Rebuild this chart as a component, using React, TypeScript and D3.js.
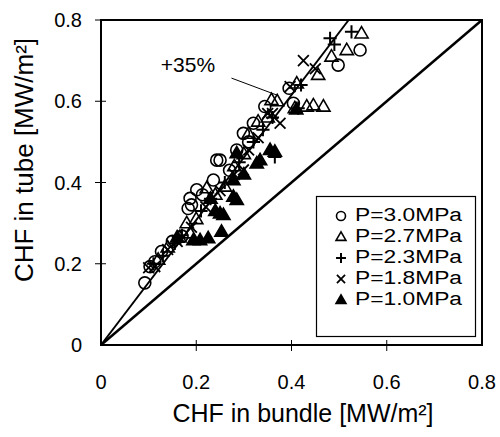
import React from "react";
import * as d3 from "d3";

const xTicks = [0, 0.2, 0.4, 0.6, 0.8];
const yTicks = [0, 0.2, 0.4, 0.6, 0.8];
const seriesNames = ["P=3.0MPa", "P=2.7MPa", "P=2.3MPa", "P=1.8MPa", "P=1.0MPa"];
const seriesShapes = ["circle", "triangle", "plus", "cross", "filledTriangle"];

const p30: [number, number][] = [
  [0.092, 0.153], [0.103, 0.193], [0.113, 0.205], [0.127, 0.23], [0.15, 0.255], [0.17, 0.268],
  [0.183, 0.336], [0.187, 0.361], [0.19, 0.345], [0.201, 0.382], [0.213, 0.37], [0.236, 0.406],
  [0.243, 0.455], [0.25, 0.455], [0.27, 0.43], [0.285, 0.48], [0.299, 0.521], [0.31, 0.5],
  [0.32, 0.546], [0.344, 0.587], [0.395, 0.632], [0.404, 0.595], [0.498, 0.689], [0.544, 0.726],
];
const p27: [number, number][] = [
  [0.12, 0.21], [0.14, 0.24], [0.165, 0.265], [0.18, 0.3], [0.187, 0.275], [0.2, 0.31],
  [0.222, 0.386], [0.24, 0.37], [0.26, 0.39], [0.28, 0.44], [0.3, 0.47], [0.31, 0.52],
  [0.33, 0.55], [0.35, 0.56], [0.358, 0.603], [0.37, 0.6], [0.411, 0.644], [0.407, 0.583],
  [0.432, 0.587], [0.446, 0.59], [0.467, 0.587], [0.456, 0.665], [0.484, 0.71], [0.516, 0.726],
  [0.547, 0.767],
];
const p23: [number, number][] = [
  [0.11, 0.2], [0.13, 0.22], [0.155, 0.25], [0.17, 0.27], [0.21, 0.33], [0.23, 0.36],
  [0.26, 0.4], [0.29, 0.45], [0.32, 0.5], [0.34, 0.53], [0.36, 0.56], [0.365, 0.463],
  [0.414, 0.583], [0.42, 0.64], [0.481, 0.755], [0.49, 0.74], [0.526, 0.771],
];
const p18: [number, number][] = [
  [0.1, 0.19], [0.113, 0.193], [0.14, 0.235], [0.16, 0.255], [0.19, 0.29], [0.22, 0.34],
  [0.25, 0.38], [0.28, 0.42], [0.299, 0.431], [0.31, 0.48], [0.33, 0.51], [0.35, 0.57],
  [0.36, 0.57], [0.376, 0.546], [0.397, 0.636], [0.425, 0.7], [0.45, 0.68],
];
const p10: [number, number][] = [
  [0.16, 0.265], [0.194, 0.258], [0.208, 0.258], [0.225, 0.263], [0.23, 0.36], [0.24, 0.33],
  [0.25, 0.324], [0.253, 0.279], [0.257, 0.32], [0.278, 0.365], [0.285, 0.357], [0.278, 0.406],
  [0.3, 0.42], [0.285, 0.472], [0.327, 0.447], [0.334, 0.455], [0.355, 0.48], [0.365, 0.476],
  [0.41, 0.58],
];
const seriesData = [p30, p27, p23, p18, p10];

const boundLine = 1 / 0.65; // +35% line slope
const annotationText = "+35%";

const W = 500;
const H = 437;
const FONT = "'Liberation Sans', Arial, sans-serif";

function Marker({ shape, cx, cy, s }: { shape: string; cx: number; cy: number; s: number }) {
  const sw = 1.6;
  if (shape === "circle") {
    return <circle cx={cx} cy={cy} r={s * 0.5} fill="none" stroke="#000" strokeWidth={sw} />;
  }
  if (shape === "triangle" || shape === "filledTriangle") {
    const h = s * 0.95;
    const pts = `${cx},${cy - h * 0.6} ${cx - s * 0.55},${cy + h * 0.4} ${cx + s * 0.55},${cy + h * 0.4}`;
    return (
      <polygon
        points={pts}
        fill={shape === "filledTriangle" ? "#000" : "none"}
        stroke="#000"
        strokeWidth={sw}
        strokeLinejoin="miter"
      />
    );
  }
  if (shape === "plus") {
    const r = s * 0.55;
    return (
      <path d={`M${cx - r},${cy}H${cx + r}M${cx},${cy - r}V${cy + r}`} stroke="#000" strokeWidth={sw + 0.4} />
    );
  }
  const r = s * 0.45;
  return (
    <path
      d={`M${cx - r},${cy - r}L${cx + r},${cy + r}M${cx - r},${cy + r}L${cx + r},${cy - r}`}
      stroke="#000"
      strokeWidth={sw + 0.2}
    />
  );
}

export default function App() {
  const x = d3.scaleLinear().domain([0, 0.8]).range([101, 482]);
  const y = d3.scaleLinear().domain([0, 0.8]).range([345, 20]);
  const line = d3
    .line<[number, number]>()
    .x((d) => x(d[0]))
    .y((d) => y(d[1]));

  const legendX = 341;
  const legendY0 = 215;
  const legendDy = 21;

  return (
    <svg width={W} height={H} style={{ display: "block", position: "absolute", left: 0, top: 0 }}>
      <rect x={0} y={0} width={W} height={H} fill="#fff" />
      {/* plot frame */}
      <rect
        x={x(0)}
        y={y(0.8)}
        width={x(0.8) - x(0)}
        height={y(0) - y(0.8)}
        fill="none"
        stroke="#000"
        strokeWidth={2}
      />
      {/* y ticks */}
      {yTicks.slice(1).map((t) => (
        <line
          key={"yt" + t}
          x1={x(0) - 6}
          x2={t === 0.8 ? x(0) : x(0) + 5}
          y1={y(t)}
          y2={y(t)}
          stroke="#000"
          strokeWidth={1}
        />
      ))}
      {/* x ticks */}
      {xTicks.slice(1, -1).map((t) => (
        <line key={"xt" + t} x1={x(t)} x2={x(t)} y1={y(0) - 5} y2={y(0) + 6} stroke="#000" strokeWidth={1} />
      ))}
      {yTicks.map((t) => (
        <text
          key={"yl" + t}
          x={x(0) - 19}
          y={y(t)}
          textAnchor="end"
          dominantBaseline="central"
          fontFamily={FONT}
          fontSize={20}
        >
          {t === 0 ? "0" : t.toFixed(1)}
        </text>
      ))}
      {xTicks.map((t) => (
        <text
          key={"xl" + t}
          x={x(t)}
          y={y(0) + 37}
          textAnchor="middle"
          dominantBaseline="central"
          fontFamily={FONT}
          fontSize={20}
        >
          {t === 0 ? "0" : t.toFixed(1)}
        </text>
      ))}
      <text x={303} y={422} textAnchor="middle" fontFamily={FONT} fontSize={25}>
        CHF in bundle [MW/m²]
      </text>
      <text
        transform={`translate(33,160) rotate(-90)`}
        textAnchor="middle"
        fontFamily={FONT}
        fontSize={26}
      >
        CHF in tube [MW/m²]
      </text>
      {/* reference lines */}
      <path d={line([[0, 0], [0.8, 0.8]]) || ""} stroke="#000" strokeWidth={2.5} fill="none" />
      <path
        d={line([[0, 0], [0.8 / boundLine, 0.8]]) || ""}
        stroke="#000"
        strokeWidth={2}
        fill="none"
      />
      {/* annotation */}
      <text x={188} y={72} textAnchor="middle" fontFamily={FONT} fontSize={21}>
        {annotationText}
      </text>
      <line
        x1={x(0.274)}
        y1={y(0.657)}
        x2={x(0.372)}
        y2={y(0.614)}
        stroke="#000"
        strokeWidth={1}
      />
      {/* data */}
      {seriesData.map((data, si) => (
        <g key={"s" + si}>
          {data.map((d, i) => (
            <Marker key={i} shape={seriesShapes[si]} cx={x(d[0])} cy={y(d[1])} s={12} />
          ))}
        </g>
      ))}
      {/* legend */}
      <rect x={316.5} y={196.5} width={159} height={140} fill="#fff" stroke="#000" strokeWidth={1.2} />
      {seriesNames.map((name, i) => (
        <g key={"lg" + i}>
          <Marker shape={seriesShapes[i]} cx={legendX} cy={legendY0 + i * legendDy + 1} s={9} />
          <text
            x={355}
            y={legendY0 + i * legendDy}
            dominantBaseline="central"
            fontFamily={FONT}
            fontSize={18}
            textLength={107}
            lengthAdjust="spacingAndGlyphs"
          >
            {name}
          </text>
        </g>
      ))}
    </svg>
  );
}
